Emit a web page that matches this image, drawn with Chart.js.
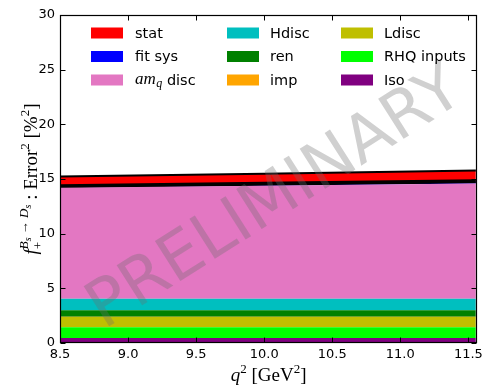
<!DOCTYPE html>
<html>
<head>
<meta charset="utf-8">
<script src="https://cdn.jsdelivr.net/npm/chart.js@4/dist/chart.umd.min.js"></script>
<style>
  html, body { margin: 0; padding: 0; background: #fff; }
  #c { display: block; }
</style>
</head>
<body>
<canvas id="c" width="487" height="387"></canvas>
<script>
// q^2 sample points (GeV^2)
const q2 = [8.5, 10.0, 11.555];

// error-budget contributions in %^2, stacked bottom to top
const iso       = [0.46, 0.46, 0.46];
const rhqInputs = [0.97, 0.97, 0.97];
const ldisc     = [0.95, 0.95, 0.95];
const imp       = [0.02, 0.02, 0.02];
const ren       = [0.60, 0.60, 0.60];
const hdisc     = [1.04, 1.04, 1.04];
const amqDisc   = [10.15, 10.35, 10.55];
const fitSys    = [0.15, 0.17, 0.20];
const stat      = [0.90, 0.93, 0.98];

// stacking order, bottom to top
const seriesNames  = ['Iso', 'RHQ inputs', 'Ldisc', 'imp', 'ren', 'Hdisc', 'am_q disc', 'fit sys', 'stat'];
const seriesValues = [iso, rhqInputs, ldisc, imp, ren, hdisc, amqDisc, fitSys, stat];
const seriesColors = ['#800080', '#00ff00', '#bfbf00', '#ffa500', '#008000', '#00bfbf', '#e377c2', '#0000ff', '#ff0000'];

const xTicks = [8.5, 9.0, 9.5, 10.0, 10.5, 11.0, 11.5];
const yTicks = [0, 5, 10, 15, 20, 25, 30];

const SANS = '"DejaVu Sans", sans-serif';
const SERIF = '"Liberation Serif", "DejaVu Serif", serif';
const F = (size, italic) => (italic ? 'italic ' : '') + size + 'px ' + SERIF;

const datasets = seriesValues.map((vals, i) => {
  const name = seriesNames[i];
  let borderColor = 'rgba(0,0,0,0)', borderWidth = 0;
  if (name === 'fit sys') { borderColor = '#000'; borderWidth = 4; }
  if (name === 'stat') { borderColor = '#000'; borderWidth = 2; }
  return {
    label: name,
    data: q2.map((x, k) => ({ x: x, y: vals[k] })),
    backgroundColor: seriesColors[i],
    borderColor: borderColor,
    borderWidth: borderWidth,
    fill: i === 0 ? 'origin' : '-1',
    pointRadius: 0,
    tension: 0
  };
});

// measure / draw a run of text segments; {stack:true, sup:[...], sub:[...]} places both at one x
function runWidth(ctx, segs) {
  let w = 0;
  for (const s of segs) {
    if (s.stack) w += Math.max(runWidth(ctx, s.sup), runWidth(ctx, s.sub));
    else { ctx.font = s.f; w += ctx.measureText(s.t).width; }
  }
  return w;
}
function drawRun(ctx, segs, x, y) {
  for (const s of segs) {
    if (s.stack) {
      const a = drawRun(ctx, s.sup, x, y);
      const b = drawRun(ctx, s.sub, x, y);
      x = Math.max(a, b);
    } else {
      ctx.font = s.f;
      ctx.fillText(s.t, x, y + (s.dy || 0));
      x += ctx.measureText(s.t).width;
    }
  }
  return x;
}

const xTitle = [
  { t: 'q', f: F(19, true) },
  { t: '2', f: F(13, false), dy: -8 },
  { t: ' [GeV', f: F(19, false) },
  { t: '2', f: F(13, false), dy: -8 },
  { t: ']', f: F(19, false) }
];
const yTitle = [
  { t: 'f', f: F(19, true) },
  { stack: true,
    sup: [
      { t: 'B', f: F(13, true), dy: -9 },
      { t: 's', f: F(10, true), dy: -6 },
      { t: ' \u2192 ', f: F(13, false), dy: -9 },
      { t: 'D', f: F(13, true), dy: -9 },
      { t: 's', f: F(10, true), dy: -6 }
    ],
    sub: [{ t: '+', f: F(13, false), dy: 5 }] },
  { t: ' : ', f: F(19, false) },
  { t: 'Error', f: F(19, false) },
  { t: '2', f: F(13, false), dy: -8 },
  { t: ' [%', f: F(19, false) },
  { t: '2', f: F(13, false), dy: -8 },
  { t: ']', f: F(19, false) }
];

const decorations = {
  id: 'decorations',
  afterDatasetsDraw(chart) {
    const ctx = chart.ctx;
    const a = chart.chartArea;
    const xs = chart.scales.x, ys = chart.scales.y;

    // watermark
    ctx.save();
    ctx.translate(276, 200);
    ctx.rotate(-32.5 * Math.PI / 180);
    ctx.font = '65px ' + SANS;
    ctx.fillStyle = 'rgba(110,110,110,0.32)';
    ctx.textAlign = 'center';
    ctx.textBaseline = 'middle';
    ctx.fillText('PRELIMINARY', 0, 0);
    ctx.restore();

    // frame and inward ticks on all four sides
    ctx.save();
    ctx.strokeStyle = '#000';
    ctx.lineWidth = 1;
    const L = Math.round(a.left) + 0.5, R = Math.round(a.right) - 0.5;
    const T = Math.round(a.top) + 0.5, B = Math.round(a.bottom) - 0.5;
    ctx.beginPath();
    for (const v of xTicks) {
      const px = Math.round(xs.getPixelForValue(v)) + 0.5;
      ctx.moveTo(px, B); ctx.lineTo(px, B - 5);
      ctx.moveTo(px, T); ctx.lineTo(px, T + 5);
    }
    for (const v of yTicks) {
      const py = Math.round(ys.getPixelForValue(v)) + 0.5;
      ctx.moveTo(L, py); ctx.lineTo(L + 5, py);
      ctx.moveTo(R, py); ctx.lineTo(R - 5, py);
    }
    ctx.stroke();
    ctx.lineWidth = 1.2;
    ctx.strokeRect(L, T, R - L, B - T);
    ctx.restore();
  },
  afterDraw(chart) {
    const ctx = chart.ctx;
    const a = chart.chartArea;
    ctx.save();
    ctx.fillStyle = '#000';
    ctx.textBaseline = 'alphabetic';
    ctx.textAlign = 'left';

    // x title
    const wx = runWidth(ctx, xTitle);
    drawRun(ctx, xTitle, (a.left + a.right) / 2 - wx / 2, 381);

    // y title, rotated
    const wy = runWidth(ctx, yTitle);
    ctx.save();
    ctx.translate(37, (a.top + a.bottom) / 2);
    ctx.rotate(-Math.PI / 2);
    drawRun(ctx, yTitle, -wy / 2, 0);
    ctx.restore();

    // legend: three columns, filled column by column, top series first
    const items = chart.data.datasets.map((d, i) => i).reverse();
    const colPatch = [91, 227, 341];
    const colText = [135, 270, 384];
    const rowY = [33, 56.5, 80];
    items.forEach((di, k) => {
      const ds = chart.data.datasets[di];
      const col = Math.floor(k / 3), row = k % 3;
      const y = rowY[row];
      ctx.fillStyle = ds.backgroundColor;
      ctx.fillRect(colPatch[col], y - 5.5, 32, 11);
      ctx.fillStyle = '#000';
      ctx.textBaseline = 'middle';
      if (ds.label === 'am_q disc') {
        let x = colText[col];
        ctx.font = F(17, true);
        ctx.fillText('am', x, y);
        x += ctx.measureText('am').width + 0.5;
        ctx.font = F(12, true);
        ctx.fillText('q', x, y + 4);
        x += ctx.measureText('q').width;
        ctx.font = '14.5px ' + SANS;
        ctx.fillText(' disc', x, y + 1);
      } else {
        ctx.font = '14.5px ' + SANS;
        ctx.fillText(ds.label, colText[col], y + 1);
      }
    });
    ctx.restore();
  }
};

new Chart(document.getElementById('c'), {
  type: 'line',
  data: { datasets: datasets },
  options: {
    responsive: false,
    animation: false,
    devicePixelRatio: 1,
    layout: { padding: { top: 15, right: 8, left: 0, bottom: 0 } },
    plugins: {
      legend: { display: false },
      tooltip: { enabled: false },
      filler: { propagate: false }
    },
    scales: {
      x: {
        type: 'linear',
        min: 8.5,
        max: 11.565,
        grid: { display: false, drawTicks: false },
        border: { display: false },
        afterBuildTicks: s => { s.ticks = xTicks.map(v => ({ value: v })); },
        afterFit: s => { s.height = 44; },
        ticks: {
          padding: 4,
          color: '#000',
          font: { family: SANS, size: 13 },
          maxRotation: 0,
          autoSkip: false,
          callback: v => Number(v).toFixed(1)
        }
      },
      y: {
        stacked: true,
        min: 0,
        max: 30,
        grid: { display: false, drawTicks: false },
        border: { display: false },
        afterBuildTicks: s => { s.ticks = yTicks.map(v => ({ value: v })); },
        afterFit: s => { s.width = 60; },
        ticks: {
          padding: 5,
          color: '#000',
          font: { family: SANS, size: 13 },
          callback: v => String(v)
        }
      }
    }
  },
  plugins: [decorations]
});
</script>
</body>
</html>
